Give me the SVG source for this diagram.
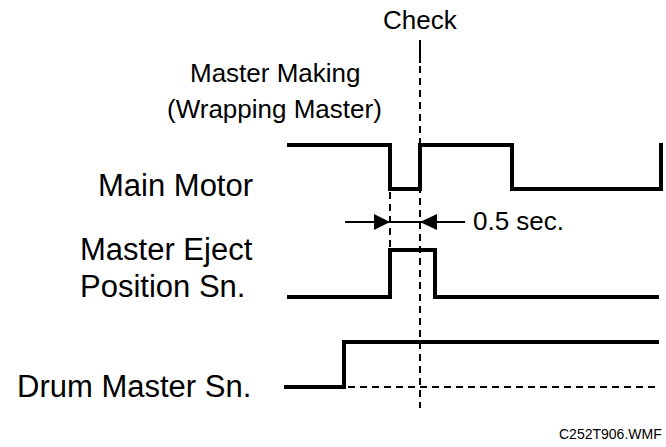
<svg xmlns="http://www.w3.org/2000/svg" width="666" height="447" viewBox="0 0 666 447">
<style>
text{font-family:"Liberation Sans",Arial,sans-serif;fill:#000}
.big{font-size:31px}
.small{font-size:26px}
.sig{fill:none;stroke:#000;stroke-width:4;stroke-linejoin:miter}
.dash{fill:none;stroke:#000;stroke-width:2;stroke-dasharray:7,5}
.thin{fill:none;stroke:#000;stroke-width:2}
</style>
<rect width="666" height="447" fill="#fff"/>
<g id="check-label">
<text class="small" x="383" y="29">Check</text>
</g>
<g id="master-making-label">
<text class="small" x="190" y="82">Master Making</text>
<text class="small" x="167" y="118">(Wrapping Master)</text>
</g>
<g id="main-motor">
<text class="big" x="98" y="196">Main Motor</text>
<path class="sig" d="M287,145 H390 V189 H420 V145 H512 V189 H661 V143"/>
</g>
<g id="master-eject">
<text class="big" x="80" y="260">Master Eject</text>
<text class="big" x="80" y="297">Position Sn.</text>
<path class="sig" d="M287,297 H390 V250 H435 V297 H659"/>
</g>
<g id="drum-master">
<text class="big" x="17" y="397">Drum Master Sn.</text>
<path class="sig" d="M284,387 H344 V342 H659"/>
</g>
<g id="connectors">
<line class="thin" x1="420" y1="40" x2="420" y2="63"/>
<line class="dash" x1="420" y1="66" x2="420" y2="408"/>
<line class="dash" x1="390" y1="192" x2="390" y2="250"/>
<line class="dash" x1="348" y1="387" x2="659" y2="387"/>
<line class="thin" x1="345" y1="222" x2="465" y2="222"/>
<polygon points="390,222 374,214 374,230" fill="#000"/>
<polygon points="420,222 437,214 437,230" fill="#000"/>
</g>
<g id="annotation">
<text class="small" x="473" y="230">0.5 sec.</text>
<text x="559" y="439" font-size="14">C252T906.WMF</text>
</g>
</svg>
